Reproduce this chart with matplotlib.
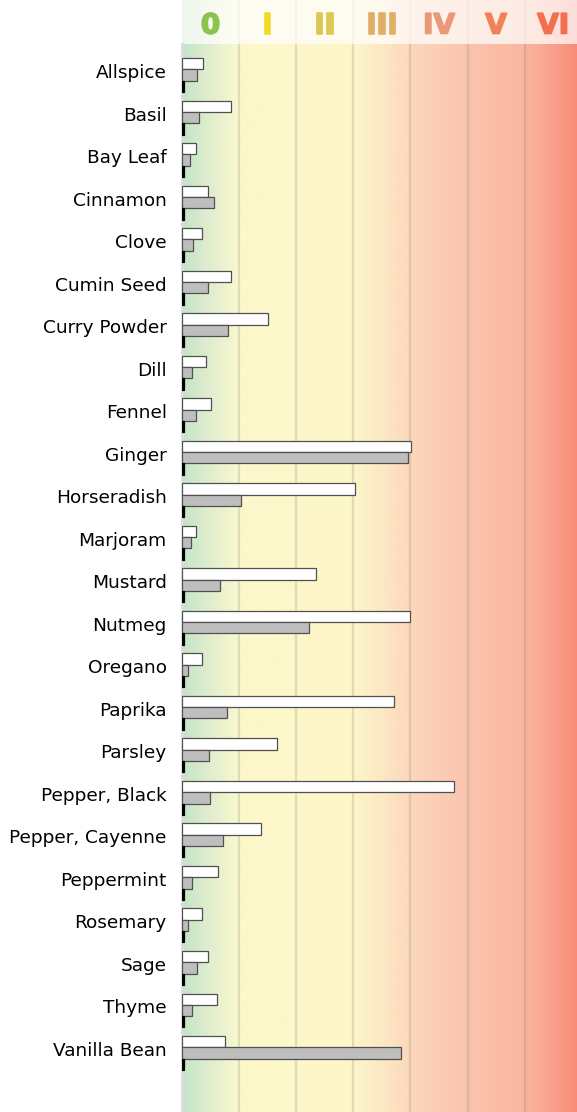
import numpy as np
import matplotlib
matplotlib.use("Agg")
import matplotlib.pyplot as plt
from matplotlib import patheffects as pe
from matplotlib.transforms import ScaledTranslation

categories = ["Allspice", "Basil", "Bay Leaf", "Cinnamon", "Clove", "Cumin Seed",
              "Curry Powder", "Dill", "Fennel", "Ginger", "Horseradish", "Marjoram",
              "Mustard", "Nutmeg", "Oregano", "Paprika", "Parsley", "Pepper, Black",
              "Pepper, Cayenne", "Peppermint", "Rosemary", "Sage", "Thyme", "Vanilla Bean"]

series_white = [0.37, 0.86, 0.24, 0.46, 0.345, 0.85, 1.50, 0.415, 0.50, 4.01, 3.03, 0.25,
                2.34, 3.99, 0.345, 3.71, 1.66, 4.77, 1.38, 0.625, 0.355, 0.46, 0.61, 0.76]
series_gray = [0.26, 0.30, 0.145, 0.565, 0.19, 0.46, 0.80, 0.18, 0.24, 3.95, 1.04, 0.15,
               0.66, 2.22, 0.11, 0.78, 0.47, 0.485, 0.72, 0.18, 0.11, 0.26, 0.18, 3.84]
series_black = [0.03] * len(categories)

class_labels = ["0", "I", "II", "III", "IV", "V", "VI"]
class_colors = ["#8cc34a", "#f0dc28", "#dcc850", "#e0ae64", "#eb9878", "#f0825a", "#f56e50"]

W, H = 577, 1112
fig = plt.figure(figsize=(W / 100, H / 100), dpi=100)
x0 = 182
ax = fig.add_axes([x0 / W, 0, (W - x0) / W, 1])

px_unit_x = 57.1
xmax = (W - x0) / px_unit_x
px_unit_y = 42.52
top = -0.73 - 44 / px_unit_y
bottom = top + H / px_unit_y
hdr_bottom = -0.73

# background gradient
stops = [(0.0, (195, 228, 200)), (0.5, (226, 238, 206)), (1.0, (250, 248, 206)),
         (1.02, (253, 248, 204)), (3.0, (253, 246, 201)), (3.5, (252, 232, 196)),
         (4.0, (252, 216, 188)), (5.0, (251, 196, 174)), (6.0, (250, 182, 160)),
         (6.4, (249, 165, 145)), (xmax, (247, 140, 120))]
xs = np.linspace(0, xmax, 800)
sx = [s[0] for s in stops]
cols = np.array([s[1] for s in stops], dtype=float) / 255
img = np.stack([np.interp(xs, sx, cols[:, i]) for i in range(3)], axis=-1)[None, :, :]
ax.imshow(img, extent=[0, xmax, bottom, top], aspect="auto", zorder=0, interpolation="bilinear")

for gx in range(1, 7):
    ax.axvline(gx, color=(0.45, 0.45, 0.4), alpha=0.2, lw=1.6, zorder=1)

# header overlay
ax.axhspan(top, hdr_bottom, color="white", alpha=0.72, zorder=2, lw=0)
for i, (lab, c) in enumerate(zip(class_labels, class_colors)):
    ax.text(i + 0.5, top + 33.5 / px_unit_y, lab, color=c, fontsize=20, fontweight="bold",
            ha="center", va="baseline", zorder=3,
            path_effects=[pe.withStroke(linewidth=1.2, foreground=c)])

y = np.arange(len(categories))
h = 0.266
ec = "#505050"
ax.barh(y - h, series_white, height=h, color="white", edgecolor=ec, lw=0.9, zorder=4)
ax.barh(y, series_gray, height=h, color="#bebebe", edgecolor=ec, lw=0.9, zorder=4)
ax.barh(y + h, series_black, height=h, color="black", edgecolor="black", lw=0.9, zorder=4)

ax.set_xlim(0, xmax)
ax.set_ylim(bottom, top)
ax.set_yticks(y)
ax.set_yticklabels(categories, fontsize=13.3)
ax.tick_params(axis="y", length=0, pad=11)
offset = ScaledTranslation(0, 4 / 100, fig.dpi_scale_trans)
for lbl in ax.get_yticklabels():
    lbl.set_transform(lbl.get_transform() + offset)
ax.set_xticks([])
for s in ["top", "right", "bottom"]:
    ax.spines[s].set_visible(False)
ax.spines["left"].set_color("#dcdcdc")
ax.spines["left"].set_linewidth(2)
ax.spines["left"].set_bounds(hdr_bottom, bottom)
ax.spines["left"].set_zorder(3)

fig.savefig("out.png", dpi=100)
